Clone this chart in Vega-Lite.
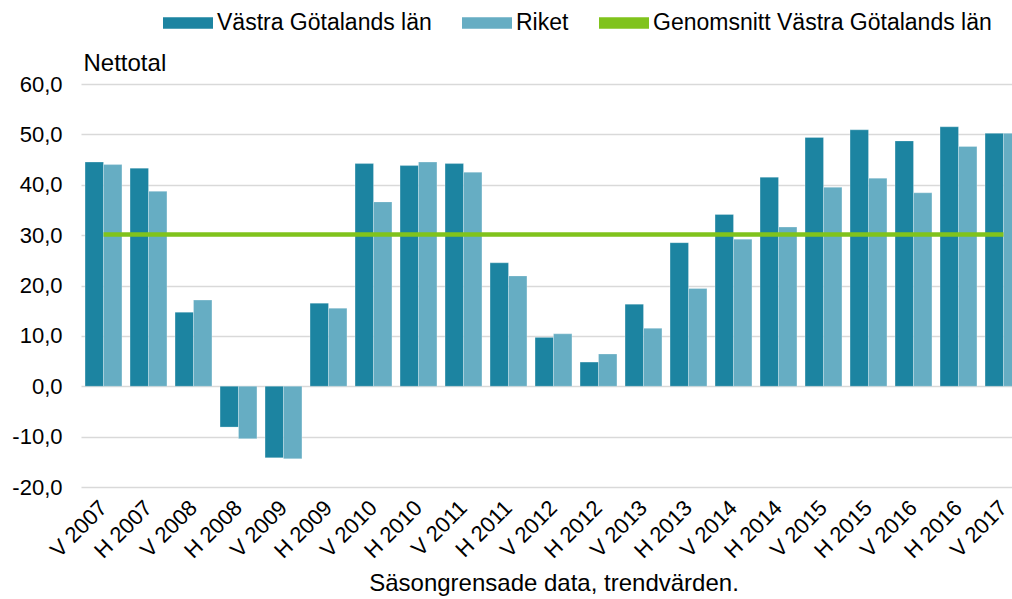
{
  "$schema": "https://vega.github.io/schema/vega-lite/v6.json",
  "width": 931,
  "height": 403,
  "autosize": {"type": "none"},
  "padding": {"left": 81, "top": 84, "right": 0, "bottom": 112},
  "background": "#ffffff",
  "config": {
    "font": "Liberation Sans",
    "view": {"stroke": null},
    "axis": {"labelFont": "Liberation Sans", "titleFont": "Liberation Sans", "labelColor": "#000000", "titleColor": "#000000", "titleFontWeight": "normal"},
    "legend": {"labelFont": "Liberation Sans", "labelColor": "#000000"}
  },
  "datasets": {
    "bars": [
      {"period": "V 2007", "serie": "Västra Götalands län", "value": 44.5},
      {"period": "V 2007", "serie": "Riket", "value": 44.0},
      {"period": "H 2007", "serie": "Västra Götalands län", "value": 43.3},
      {"period": "H 2007", "serie": "Riket", "value": 38.7},
      {"period": "V 2008", "serie": "Västra Götalands län", "value": 14.7},
      {"period": "V 2008", "serie": "Riket", "value": 17.1},
      {"period": "H 2008", "serie": "Västra Götalands län", "value": -8.1},
      {"period": "H 2008", "serie": "Riket", "value": -10.4},
      {"period": "V 2009", "serie": "Västra Götalands län", "value": -14.2},
      {"period": "V 2009", "serie": "Riket", "value": -14.4},
      {"period": "H 2009", "serie": "Västra Götalands län", "value": 16.5},
      {"period": "H 2009", "serie": "Riket", "value": 15.5},
      {"period": "V 2010", "serie": "Västra Götalands län", "value": 44.2},
      {"period": "V 2010", "serie": "Riket", "value": 36.6},
      {"period": "H 2010", "serie": "Västra Götalands län", "value": 43.8},
      {"period": "H 2010", "serie": "Riket", "value": 44.5},
      {"period": "V 2011", "serie": "Västra Götalands län", "value": 44.2},
      {"period": "V 2011", "serie": "Riket", "value": 42.5},
      {"period": "H 2011", "serie": "Västra Götalands län", "value": 24.5},
      {"period": "H 2011", "serie": "Riket", "value": 21.9},
      {"period": "V 2012", "serie": "Västra Götalands län", "value": 9.7},
      {"period": "V 2012", "serie": "Riket", "value": 10.4},
      {"period": "H 2012", "serie": "Västra Götalands län", "value": 4.8},
      {"period": "H 2012", "serie": "Riket", "value": 6.4},
      {"period": "V 2013", "serie": "Västra Götalands län", "value": 16.3},
      {"period": "V 2013", "serie": "Riket", "value": 11.5},
      {"period": "H 2013", "serie": "Västra Götalands län", "value": 28.5},
      {"period": "H 2013", "serie": "Riket", "value": 19.4},
      {"period": "V 2014", "serie": "Västra Götalands län", "value": 34.1},
      {"period": "V 2014", "serie": "Riket", "value": 29.2},
      {"period": "H 2014", "serie": "Västra Götalands län", "value": 41.5},
      {"period": "H 2014", "serie": "Riket", "value": 31.6},
      {"period": "V 2015", "serie": "Västra Götalands län", "value": 49.4},
      {"period": "V 2015", "serie": "Riket", "value": 39.5},
      {"period": "H 2015", "serie": "Västra Götalands län", "value": 50.9},
      {"period": "H 2015", "serie": "Riket", "value": 41.3},
      {"period": "V 2016", "serie": "Västra Götalands län", "value": 48.7},
      {"period": "V 2016", "serie": "Riket", "value": 38.4},
      {"period": "H 2016", "serie": "Västra Götalands län", "value": 51.5},
      {"period": "H 2016", "serie": "Riket", "value": 47.6},
      {"period": "V 2017", "serie": "Västra Götalands län", "value": 50.2},
      {"period": "V 2017", "serie": "Riket", "value": 50.2}
    ],
    "avg": [
      {"period": "V 2007", "serie": "Genomsnitt Västra Götalands län", "value": 30.1},
      {"period": "H 2007", "serie": "Genomsnitt Västra Götalands län", "value": 30.1},
      {"period": "V 2008", "serie": "Genomsnitt Västra Götalands län", "value": 30.1},
      {"period": "H 2008", "serie": "Genomsnitt Västra Götalands län", "value": 30.1},
      {"period": "V 2009", "serie": "Genomsnitt Västra Götalands län", "value": 30.1},
      {"period": "H 2009", "serie": "Genomsnitt Västra Götalands län", "value": 30.1},
      {"period": "V 2010", "serie": "Genomsnitt Västra Götalands län", "value": 30.1},
      {"period": "H 2010", "serie": "Genomsnitt Västra Götalands län", "value": 30.1},
      {"period": "V 2011", "serie": "Genomsnitt Västra Götalands län", "value": 30.1},
      {"period": "H 2011", "serie": "Genomsnitt Västra Götalands län", "value": 30.1},
      {"period": "V 2012", "serie": "Genomsnitt Västra Götalands län", "value": 30.1},
      {"period": "H 2012", "serie": "Genomsnitt Västra Götalands län", "value": 30.1},
      {"period": "V 2013", "serie": "Genomsnitt Västra Götalands län", "value": 30.1},
      {"period": "H 2013", "serie": "Genomsnitt Västra Götalands län", "value": 30.1},
      {"period": "V 2014", "serie": "Genomsnitt Västra Götalands län", "value": 30.1},
      {"period": "H 2014", "serie": "Genomsnitt Västra Götalands län", "value": 30.1},
      {"period": "V 2015", "serie": "Genomsnitt Västra Götalands län", "value": 30.1},
      {"period": "H 2015", "serie": "Genomsnitt Västra Götalands län", "value": 30.1},
      {"period": "V 2016", "serie": "Genomsnitt Västra Götalands län", "value": 30.1},
      {"period": "H 2016", "serie": "Genomsnitt Västra Götalands län", "value": 30.1},
      {"period": "V 2017", "serie": "Genomsnitt Västra Götalands län", "value": 30.1}
    ]
  },
  "encoding": {
    "x": {
      "field": "period",
      "type": "nominal",
      "sort": null,
      "scale": {"range": [0, 945], "paddingInner": 0.18, "paddingOuter": 0.09},
      "axis": {
        "title": "Säsongrensade data, trendvärden.",
        "titleFontSize": 24,
        "titlePadding": 10,
        "labelAngle": -45,
        "labelAlign": "right",
        "labelBaseline": "middle",
        "labelFontSize": 22,
        "labelPadding": 17,
        "ticks": false,
        "domain": false,
        "grid": false,
        "labelOverlap": false
      }
    },
    "y": {
      "field": "value",
      "type": "quantitative",
      "scale": {"domain": [-20, 60], "nice": false, "zero": false},
      "axis": {
        "values": [-20, -10, 0, 10, 20, 30, 40, 50, 60],
        "labelExpr": "(datum.value < 0 ? '-' : '') + replace(format(abs(datum.value), '.1f'), '.', ',')",
        "labelFontSize": 22,
        "labelPadding": 19,
        "ticks": false,
        "domain": false,
        "grid": true,
        "gridColor": "#d9d9d9",
        "gridWidth": 1.5,
        "title": "Nettotal",
        "titleAngle": 0,
        "titleAlign": "left",
        "titleBaseline": "alphabetic",
        "titleX": 2,
        "titleY": -14,
        "titleFontSize": 24
      }
    }
  },
  "layer": [
    {
      "data": {"name": "bars"},
      "mark": {"type": "bar", "clip": true, "stroke": "#ffffff", "strokeWidth": 0.5, "strokeOpacity": 0.5},
      "encoding": {
        "xOffset": {"field": "serie", "type": "nominal", "sort": ["Västra Götalands län", "Riket"], "scale": {"paddingInner": 0, "paddingOuter": 0}},
        "color": {
          "field": "serie",
          "type": "nominal",
          "scale": {
            "domain": ["Västra Götalands län", "Riket", "Genomsnitt Västra Götalands län"],
            "range": ["#1c84a1", "#66adc3", "#80c31c"]
          },
          "legend": {
            "title": null,
            "orient": "none",
            "legendX": 82,
            "legendY": -86,
            "direction": "horizontal",
            "labelFontSize": 23,
            "labelLimit": 0,
            "labelOffset": 4,
            "columnPadding": 30,
            "symbolType": "M-1,-0.23H1V0.23H-1Z",
            "symbolSize": 2500,
            "symbolStrokeWidth": 0,
            "encode": {
              "symbols": {
                "update": {
                  "shape": {"signal": "datum.value === 'Genomsnitt Västra Götalands län' ? 'M-1,-0.09H1V0.09H-1Z' : 'M-1,-0.23H1V0.23H-1Z'"},
                  "fill": {"scale": "color", "field": "value"},
                  "strokeWidth": {"value": 0}
                }
              }
            }
          }
        }
      }
    },
    {
      "data": {"name": "avg"},
      "mark": {"type": "line", "strokeWidth": 4.5, "clip": true},
      "encoding": {
        "color": {"field": "serie", "type": "nominal"}
      }
    }
  ]
}
